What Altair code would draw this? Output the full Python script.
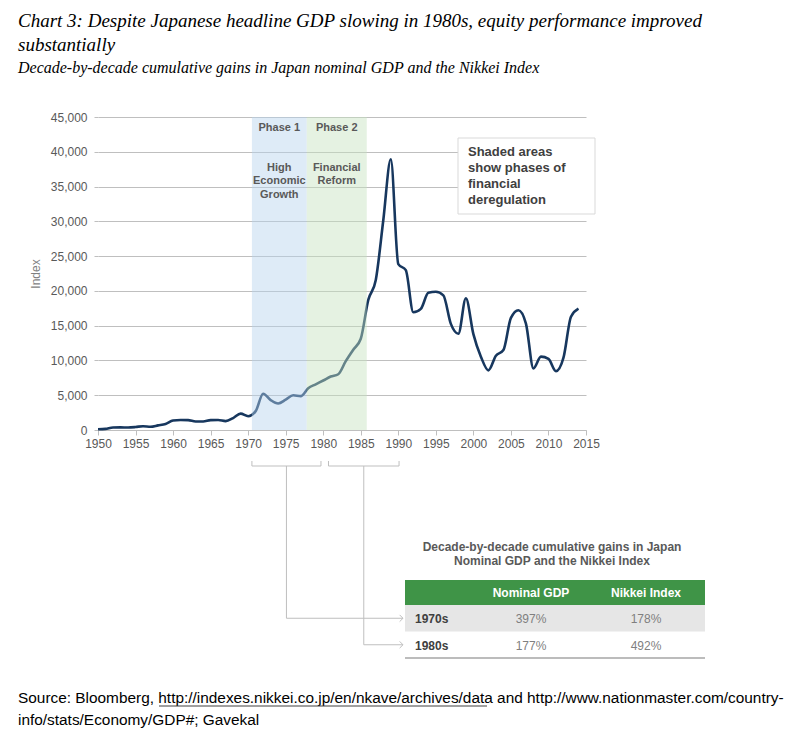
import altair as alt
import pandas as pd

# ---------------- data ----------------
years = list(range(1950, 2015))
nikkei = [101, 166, 362, 377, 356, 425, 549, 474, 666, 874,
          1356, 1432, 1420, 1225, 1216, 1417, 1430, 1283, 1714, 2358,
          1987, 2713, 5207, 4307, 3817, 4358, 4991, 4866, 6002, 6569,
          7116, 7682, 8017, 9894, 11543, 13113, 18701, 21564, 30159, 38916,
          23849, 22984, 16925, 17417, 19723, 19868, 19361, 15259, 13842, 18934,
          13786, 10543, 8579, 10677, 11489, 16111, 17226, 15308, 8860, 10546,
          10229, 8455, 10395, 16291, 17451]

phase_names = ["Phase 1", "Phase 2"]
phase_desc = ["High\nEconomic\nGrowth", "Financial\nReform"]
phase_start = [1970.5, 1977.8]
phase_end = [1977.8, 1985.8]

decades = ["1970s", "1980s"]
bracket_start = [1970.5, 1980.7]
bracket_end = [1979.7, 1990.1]
table_cols = ["Nominal GDP", "Nikkei Index"]
gdp_gain = ["397%", "177%"]
nikkei_gain = ["178%", "492%"]

title_lines = ["Chart 3: Despite Japanese headline GDP slowing in 1980s, equity performance improved",
               "substantially"]
subtitle = "Decade-by-decade cumulative gains in Japan nominal GDP and the Nikkei Index"
note = "Shaded areas\nshow phases of\nfinancial\nderegulation"
table_title = "Decade-by-decade cumulative gains in Japan\nNominal GDP and the Nikkei Index"
source_parts = ["Source: Bloomberg, ", "http://indexes.nikkei.co.jp/en/nkave/archives/data",
                " and http://www.nationmaster.com/country-"]
source_line2 = "info/stats/Economy/GDP#; Gavekal"

# ---------------- layout ----------------
W, H = 488, 313
PAD_L, PAD_T = 98, 117
PAD_R, PAD_B = 800 - PAD_L - W, 743 - PAD_T - H

SANS = "Liberation Sans"
SERIF = "Liberation Serif"
GRID = "#bfbfbf"

df = pd.DataFrame({"year": years, "nikkei": nikkei})
phase_df = pd.DataFrame({"name": phase_names, "desc": phase_desc,
                         "start": phase_start, "end": phase_end})
phase_df["mid"] = (phase_df["start"] + phase_df["end"]) / 2
br_df = pd.DataFrame({"decade": decades, "start": bracket_start, "end": bracket_end})
br_df["mid"] = (br_df["start"] + br_df["end"]) / 2

x_scale = alt.Scale(domain=[1950, 2015], nice=False, zero=False)
y_scale = alt.Scale(domain=[0, 45000], nice=False)
x_axis = alt.Axis(values=list(range(1950, 2016, 5)), format="d", grid=False,
                  labelFlush=False, labelOverlap=False,
                  domainColor=GRID, tickColor=GRID, tickSize=5, labelPadding=3,
                  labelColor="#595959", labelFontSize=12, labelFont=SANS, title=None)
y_axis = alt.Axis(values=list(range(0, 45001, 5000)), format=",.0f", grid=True,
                  gridColor=GRID, domain=False, tickColor=GRID, tickSize=4,
                  labelPadding=7, labelColor="#595959", labelFontSize=12, labelFont=SANS,
                  title="Index", titleColor="#7f7f7f", titleFontWeight="normal",
                  titleFont=SANS, titleFontSize=12, titlePadding=8)

one = pd.DataFrame({"k": [0]})

line = alt.Chart(df).mark_line(interpolate="monotone", strokeWidth=2.6, color="#17375e").encode(
    x=alt.X("year:Q", scale=x_scale, axis=x_axis),
    y=alt.Y("nikkei:Q", scale=y_scale, axis=y_axis),
)

bands = alt.Chart(phase_df).mark_rect(opacity=0.45).encode(
    x=alt.X("start:Q", scale=x_scale, axis=x_axis),
    x2="end:Q",
    y=alt.value(0), y2=alt.value(H),
    color=alt.Color("name:N", scale=alt.Scale(domain=phase_names, range=["#b6d3ee", "#c6e3bf"]),
                    legend=None),
)

phase_lab = alt.Chart(phase_df).mark_text(font=SANS, fontSize=11, fontWeight="bold",
                                          color="#595959", baseline="middle").encode(
    x=alt.X("mid:Q", scale=x_scale, axis=x_axis), y=alt.value(10.5), text="name:N")

phase_txt = alt.Chart(phase_df).mark_text(font=SANS, fontSize=11, fontWeight="bold",
                                          color="#595959", baseline="top", lineBreak="\n",
                                          lineHeight=13.3).encode(
    x=alt.X("mid:Q", scale=x_scale, axis=x_axis), y=alt.value(45), text="desc:N")

note_box = alt.Chart(one).mark_rect(fill="white", stroke="#d9d9d9", strokeWidth=1).encode(
    x=alt.value(360), x2=alt.value(497), y=alt.value(21), y2=alt.value(97))
note_txt = alt.Chart(one).mark_text(font=SANS, fontSize=13, fontWeight="bold", color="#404040",
                                    align="left", baseline="top", lineBreak="\n",
                                    lineHeight=16).encode(
    x=alt.value(370), y=alt.value(29), text=alt.value(note))

# brackets under the axis
br_h = alt.Chart(br_df).mark_rule(color=GRID, strokeWidth=1).encode(
    x=alt.X("start:Q", scale=x_scale, axis=x_axis), x2="end:Q", y=alt.value(349))
br_l = alt.Chart(br_df).mark_rule(color=GRID, strokeWidth=1).encode(
    x=alt.X("start:Q", scale=x_scale, axis=x_axis), y=alt.value(344), y2=alt.value(349))
br_r = alt.Chart(br_df).mark_rule(color=GRID, strokeWidth=1).encode(
    x=alt.X("end:Q", scale=x_scale, axis=x_axis), y=alt.value(344), y2=alt.value(349))

# table geometry (plot-relative pixels)
TX0, TX1 = 307, 607
HEAD_Y0, ROW_H = 463, 26.5
COL_X = [433, 548]
ROW_TEXT_X = 317

layers = [line, bands, phase_lab, phase_txt, note_box, note_txt, br_h, br_l, br_r]

for i, d in enumerate(decades):
    row_mid = HEAD_Y0 + 25 + ROW_H * i + ROW_H / 2
    sub = br_df[br_df["decade"] == d]
    layers.append(alt.Chart(sub).mark_rule(color=GRID, strokeWidth=1).encode(
        x=alt.X("mid:Q", scale=x_scale, axis=x_axis), y=alt.value(349), y2=alt.value(row_mid)))
    layers.append(alt.Chart(sub).mark_rule(color=GRID, strokeWidth=1).encode(
        x=alt.X("mid:Q", scale=x_scale, axis=x_axis), x2=alt.value(TX0 - 2), y=alt.value(row_mid)))
    layers.append(alt.Chart(one).mark_point(shape="M-1,-1L0,0L-1,1", filled=False, size=45,
                                            color=GRID, strokeWidth=1, opacity=1).encode(
        x=alt.value(TX0 - 2), y=alt.value(row_mid)))

# table
layers.append(alt.Chart(one).mark_text(font=SANS, fontSize=12, fontWeight="bold", color="#595959",
                                       align="center", baseline="middle", lineBreak="\n",
                                       lineHeight=14).encode(
    x=alt.value((TX0 + TX1) / 2 - 3), y=alt.value(430), text=alt.value(table_title)))
layers.append(alt.Chart(one).mark_rect(fill="#3f9447").encode(
    x=alt.value(TX0), x2=alt.value(TX1), y=alt.value(HEAD_Y0), y2=alt.value(HEAD_Y0 + 25)))
layers.append(alt.Chart(one).mark_rect(fill="#e6e6e6").encode(
    x=alt.value(TX0), x2=alt.value(TX1), y=alt.value(HEAD_Y0 + 25), y2=alt.value(HEAD_Y0 + 25 + ROW_H)))
layers.append(alt.Chart(one).mark_rule(color="#a6a6a6", strokeWidth=1.5).encode(
    x=alt.value(TX0), x2=alt.value(TX1), y=alt.value(HEAD_Y0 + 25 + 2 * ROW_H)))
for c, cx in zip(table_cols, COL_X):
    layers.append(alt.Chart(one).mark_text(font=SANS, fontSize=12, fontWeight="bold", color="white",
                                           align="center", baseline="middle").encode(
        x=alt.value(cx), y=alt.value(HEAD_Y0 + 13), text=alt.value(c)))
for i, (d, g, n) in enumerate(zip(decades, gdp_gain, nikkei_gain)):
    ry = HEAD_Y0 + 25 + ROW_H * i + ROW_H / 2 + 1
    layers.append(alt.Chart(one).mark_text(font=SANS, fontSize=12, fontWeight="bold", color="#404040",
                                           align="left", baseline="middle").encode(
        x=alt.value(ROW_TEXT_X), y=alt.value(ry), text=alt.value(d)))
    for v, cx in zip([g, n], COL_X):
        layers.append(alt.Chart(one).mark_text(font=SANS, fontSize=12, color="#7f7f7f",
                                               align="center", baseline="middle").encode(
            x=alt.value(cx), y=alt.value(ry), text=alt.value(v)))

# titles
for i, t in enumerate(title_lines):
    layers.append(alt.Chart(one).mark_text(font=SERIF, fontSize=19, fontStyle="italic", color="black",
                                           align="left", baseline="middle").encode(
        x=alt.value(18 - PAD_L), y=alt.value(21 - PAD_T + 24 * i), text=alt.value(t)))
layers.append(alt.Chart(one).mark_text(font=SERIF, fontSize=16, fontStyle="italic", color="black",
                                       align="left", baseline="middle").encode(
    x=alt.value(18 - PAD_L), y=alt.value(68 - PAD_T), text=alt.value(subtitle)))

# source (line 1 as one string, the link underlined)
SRC_FS = 15.4
SRC_X = 18 - PAD_L
SRC_Y = 698 - PAD_T
layers.append(alt.Chart(one).mark_text(font=SANS, fontSize=SRC_FS, color="black",
                                       align="left", baseline="middle").encode(
    x=alt.value(SRC_X), y=alt.value(SRC_Y), text=alt.value("".join(source_parts))))
layers.append(alt.Chart(one).mark_text(font=SANS, fontSize=SRC_FS, color="black",
                                       align="left", baseline="middle").encode(
    x=alt.value(SRC_X), y=alt.value(SRC_Y + 22), text=alt.value(source_line2)))
layers.append(alt.Chart(one).mark_rule(color="#404040", strokeWidth=1).encode(
    x=alt.value(159 - PAD_L), x2=alt.value(487 - PAD_L), y=alt.value(SRC_Y + 8)))

chart = alt.layer(*layers).properties(
    width=W, height=H,
    autosize=alt.AutoSizeParams(type="none"),
    padding={"left": PAD_L, "top": PAD_T, "right": PAD_R, "bottom": PAD_B},
    background="white",
).configure_view(stroke=None)

chart.save("out.html", embed_options={"renderer": "svg", "actions": False})
